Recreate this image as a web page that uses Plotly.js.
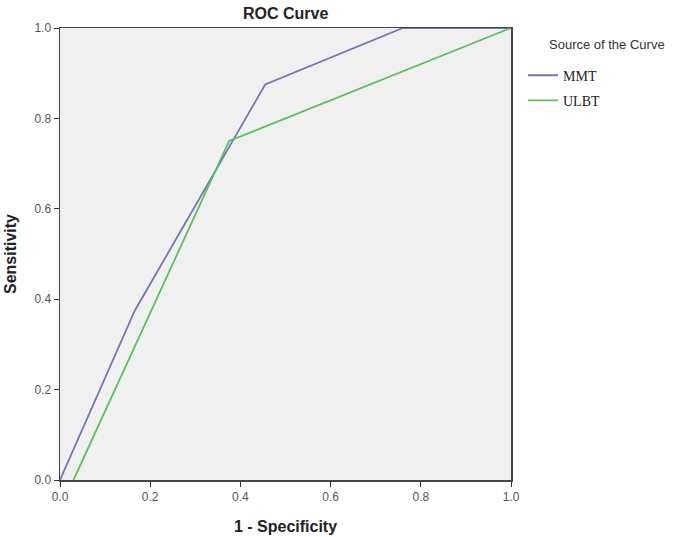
<!DOCTYPE html>
<html>
<head>
<meta charset="utf-8">
<script src="https://cdn.plot.ly/plotly-3.0.1.min.js"></script>
<style>body{margin:0;background:#fff;} #chart{width:685px;height:537px;}</style>
</head>
<body>
<div id="chart"></div>
<script>
const mmtX = [0, 0.166, 0.455, 0.76, 1.0];
const mmtY = [0, 0.375, 0.875, 1.0, 1.0];
const ulbtX = [0.03, 0.375, 1.0];
const ulbtY = [0, 0.75, 1.0];
const tickVals = [0, 0.2, 0.4, 0.6, 0.8, 1.0];
const tickText = ["0.0", "0.2", "0.4", "0.6", "0.8", "1.0"];

const traces = [
  {x: mmtX, y: mmtY, name: "MMT", legendgroup: "a", mode: "lines", line: {color: "#6f78b6", width: 1.8}},
  {x: ulbtX, y: ulbtY, name: "ULBT", legendgroup: "b", mode: "lines", line: {color: "#5dbf5d", width: 1.8}}
];

const axisCommon = {
  range: [0, 1],
  tickvals: tickVals,
  ticktext: tickText,
  ticks: "outside",
  ticklen: 5,
  tickcolor: "#333",
  showline: true,
  linecolor: "#444",
  linewidth: 1.5,
  mirror: true,
  showgrid: false,
  zeroline: false,
  tickfont: {family: "Liberation Sans, Arial, sans-serif", size: 12, color: "#555"}
};

const layout = {
  width: 685,
  height: 537,
  margin: {l: 60, r: 174, t: 28, b: 57},
  paper_bgcolor: "#ffffff",
  plot_bgcolor: "#f0f0f0",
  title: {text: "<b>ROC Curve</b>", x: 0.417, xanchor: "center", y: 0.985, yanchor: "top",
          font: {family: "Liberation Sans, Arial, sans-serif", size: 16, color: "#222"}},
  xaxis: Object.assign({}, axisCommon, {
    title: {text: "<b>1 - Specificity</b>", standoff: 18,
            font: {family: "Liberation Sans, Arial, sans-serif", size: 16, color: "#222"}}
  }),
  yaxis: Object.assign({}, axisCommon, {
    title: {text: "<b>Sensitivity</b>", standoff: 14,
            font: {family: "Liberation Sans, Arial, sans-serif", size: 16, color: "#222"}}
  }),
  annotations: [{
    text: "Source of the Curve", xref: "paper", yref: "paper",
    x: (547 - 60) / 451, y: (480 - 44) / 452, xanchor: "left", yanchor: "middle",
    showarrow: false,
    font: {family: "Liberation Sans, Arial, sans-serif", size: 13, color: "#333"}
  }],
  showlegend: true,
  legend: {
    x: (523 - 60) / 451, xanchor: "left", y: 0.93, yanchor: "top",
    font: {family: "Liberation Serif, Times New Roman, serif", size: 14, color: "#222"},
    bgcolor: "rgba(0,0,0,0)",
    itemwidth: 30,
    tracegroupgap: 4
  }
};

Plotly.newPlot("chart", traces, layout, {displayModeBar: false, staticPlot: true});
</script>
</body>
</html>
